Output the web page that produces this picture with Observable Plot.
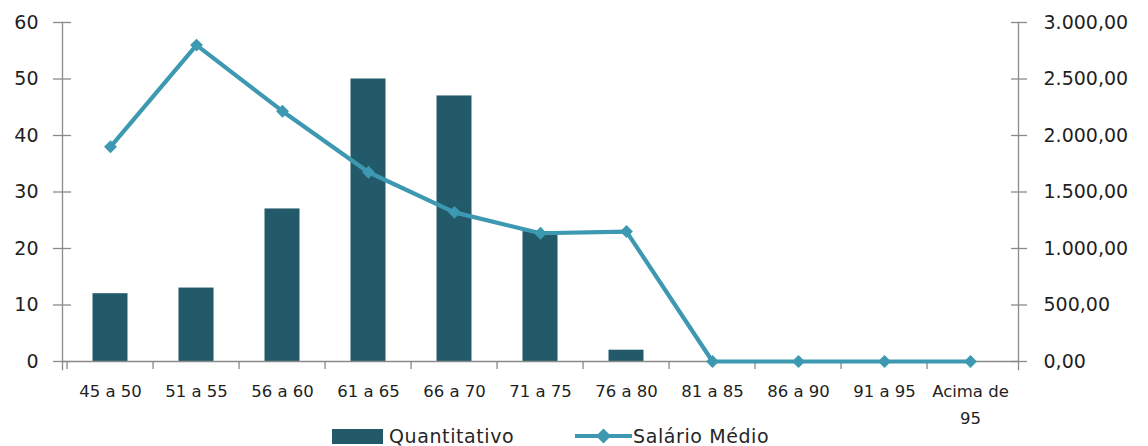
<!DOCTYPE html>
<html><head><meta charset="utf-8">
<script src="https://cdn.jsdelivr.net/npm/d3@7"></script>
<script src="https://cdn.jsdelivr.net/npm/@observablehq/plot@0.6"></script>
<style>
html,body{margin:0;padding:0;background:#fff;}
body{font-family:"DejaVu Sans",sans-serif;width:1148px;height:446px;overflow:hidden;}
#legend{position:relative;width:1148px;height:20px;color:#262626;font-size:19px;}
#legend .item{position:absolute;top:0;height:20px;display:flex;align-items:center;}
</style></head><body>
<div id="chart"></div>
<div id="legend"></div>
<script>
const categories = ["45 a 50","51 a 55","56 a 60","61 a 65","66 a 70","71 a 75","76 a 80","81 a 85","86 a 90","91 a 95","Acima de\n95"];
const quantitativo = [12,13,27,50,47,23,2,0,0,0,0];
const salarioMedio = [1900,2800,2215,1675,1320,1135,1150,0,0,0,0];
const leftTicks = [0,10,20,30,40,50,60];
const rightTicks = [0,500,1000,1500,2000,2500,3000];
const seriesNames = ["Quantitativo","Salário Médio"];

const barColor = "#225a69";
const lineColor = "#3d98b1";
const axisColor = "#8a8a8a";
const textColor = "#1f1f1f";

const data = categories.map((c,i)=>({cat:c, q:quantitativo[i], s:salarioMedio[i]}));
const ratio = 3000/60;
const W=1148, H=426, mL=62, mR=130, mT=22, mB=65;
const step = (W-mL-mR)/categories.length;
const pxPerUnit = (H-mT-mB)/60;
const fmt = d3.formatLocale({decimal:",", thousands:".", grouping:[3], currency:["",""]}).format(",.2f");

const chart = Plot.plot({
  width: W, height: H,
  marginLeft: mL, marginRight: mR, marginTop: mT, marginBottom: mB,
  style: {fontFamily: "DejaVu Sans, sans-serif", background: "#fff", overflow: "visible"},
  x: {type: "band", domain: categories, padding: 0, axis: null, label: null},
  y: {domain: [0, 60], axis: null, label: null},
  marks: [
    Plot.barY(data, {x: "cat", y: "q", fill: barColor, insetLeft: 25.5, insetRight: 25.5}),
    Plot.ruleY([0], {stroke: axisColor, strokeWidth: 1.3}),
    Plot.ruleX(categories, {x: d => d, y1: 0, y2: -8/pxPerUnit, dx: -step/2, stroke: axisColor, strokeWidth: 1.3}),
    Plot.frame({anchor: "left", insetBottom: -8, stroke: axisColor, strokeWidth: 1.3}),
    Plot.frame({anchor: "right", insetBottom: -8, stroke: axisColor, strokeWidth: 1.3}),
    // left axis
    Plot.axisY(leftTicks, {anchor: "left", label: null, tickSize: 18, dx: 9, tickFormat: () => "", stroke: axisColor, strokeWidth: 1.3}),
    Plot.axisY(leftTicks, {anchor: "left", label: null, tickSize: 0, tickPadding: 24, fontSize: 19, fill: textColor, letterSpacing: "0.5px"}),
    // right axis
    Plot.axisY(rightTicks.map(d => d/ratio), {anchor: "right", label: null, tickSize: 16, dx: -8, tickFormat: () => "", stroke: axisColor, strokeWidth: 1.3}),
    Plot.axisY(rightTicks.map(d => d/ratio), {anchor: "right", label: null, tickSize: 0, tickPadding: 25, fontSize: 19, fill: textColor, tickFormat: d => fmt(d*ratio)}),
    // x axis labels
    Plot.axisX({anchor: "bottom", label: null, tickSize: 0, tickPadding: 16, fontSize: 16.5, fill: textColor, lineHeight: 1.65}),
    // line series
    Plot.line(data, {x: "cat", y: d => d.s/ratio, stroke: lineColor, strokeWidth: 4.2, strokeLinejoin: "round"}),
    Plot.dot(data, {x: "cat", y: d => d.s/ratio, symbol: "diamond2", r: 5.8, fill: lineColor, stroke: "none"})
  ]
});
document.getElementById("chart").appendChild(chart);

const legend = document.getElementById("legend");
legend.innerHTML = `
<div class="item" style="left:332px"><div style="width:51px;height:15px;background:${barColor};margin-right:6px"></div><span style="letter-spacing:0.6px">${seriesNames[0]}</span></div>
<div class="item" style="left:575px"><svg width="57" height="20" style="margin-right:1px"><line x1="0" y1="10" x2="57" y2="10" stroke="${lineColor}" stroke-width="4.2"/><path d="M28.5 2.5 L36 10 L28.5 17.5 L21 10 Z" fill="${lineColor}"/></svg><span style="letter-spacing:0.6px">${seriesNames[1]}</span></div>`;
</script>
</body></html>
